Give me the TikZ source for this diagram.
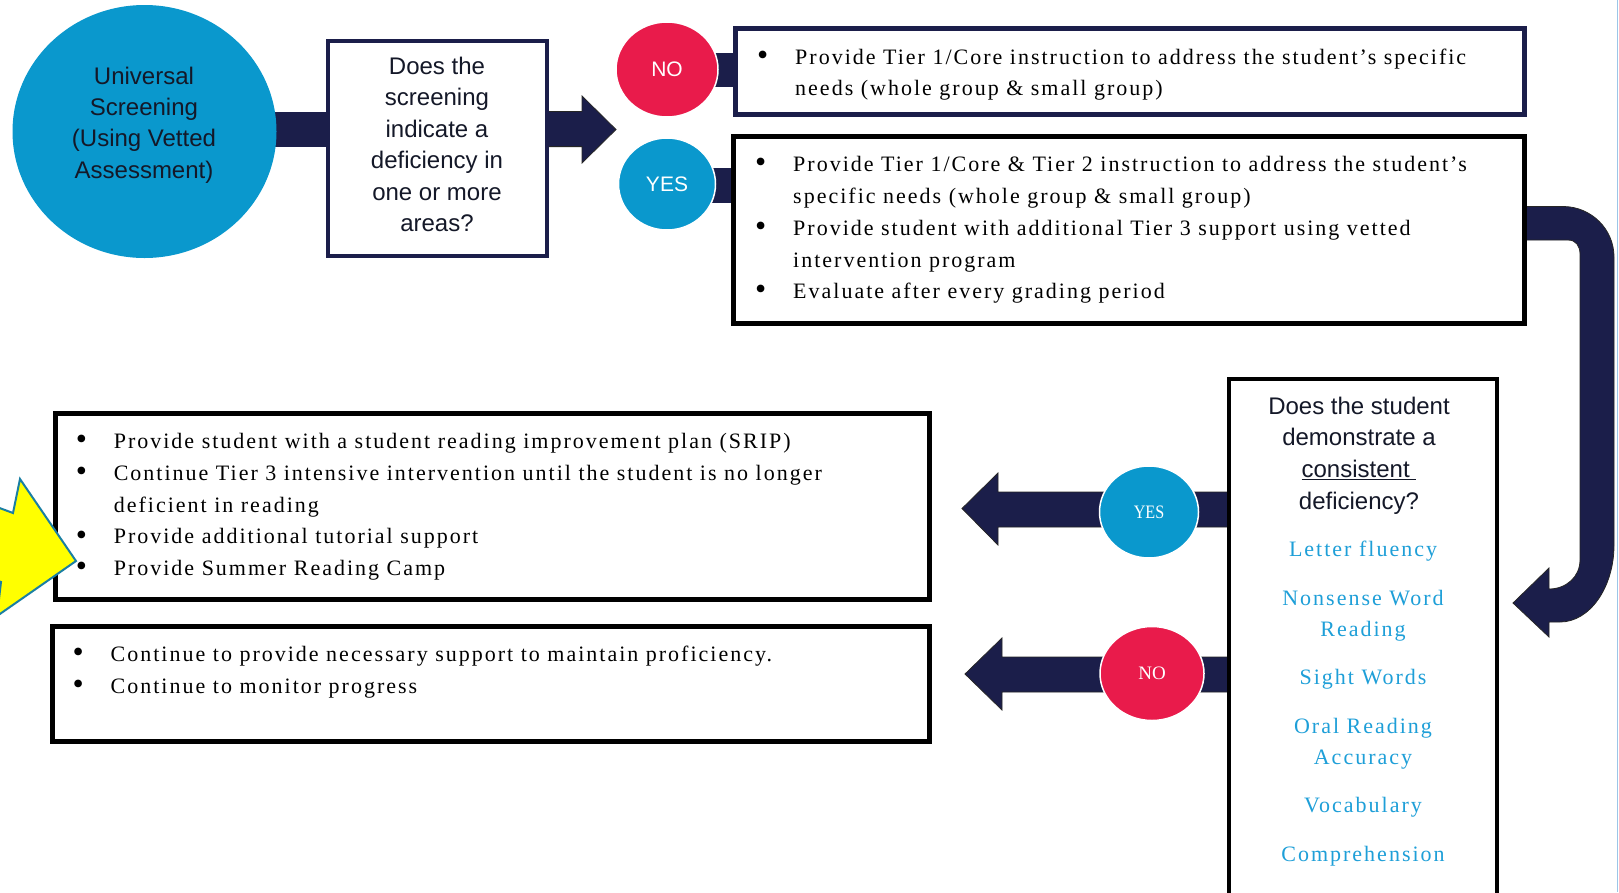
\documentclass[tikz,border=0pt]{standalone}
\usepackage{fontspec}
\setmainfont{Liberation Serif}
\newfontfamily\bodyfont{Liberation Serif}[LetterSpace=9.1]
\newfontfamily\arialfont{Liberation Sans}
\usetikzlibrary{shapes.geometric,calc}
\pgfdeclarelayer{bg}
\pgfsetlayers{bg,main}
\definecolor{navy}{HTML}{1B1E4A}
\definecolor{cblue}{HTML}{0A98CD}
\definecolor{cred}{HTML}{E91B4B}
\definecolor{lblue}{HTML}{1E9FD8}
\definecolor{darktext}{HTML}{141828}
\definecolor{yel}{HTML}{FFFF00}
\definecolor{tealb}{HTML}{1A7FA3}
\definecolor{edgeline}{HTML}{9CC6E8}
\newcommand\bulitem{\makebox[38pt][l]{\raisebox{-1.2pt}{\scalebox{1.45}{•}}}}
\newcommand\contind{\hspace*{38pt}}
\begin{document}
\begin{tikzpicture}[x=1pt,y=-1pt,
  sanstxt/.style={font=\arialfont\fontsize{24}{31.4}\selectfont, text=darktext, align=center, inner sep=0},
  bodytxt/.style={font=\bodyfont\fontsize{22}{31.75}\selectfont, inner sep=0, align=left, anchor=west},
  itemtxt/.style={font=\bodyfont\fontsize{22}{31}\selectfont, text=lblue, inner sep=0, anchor=base},
  bluecirc/.style={ellipse, fill=cblue, draw=white, line width=1.5, inner sep=0},
  redcirc/.style={ellipse, fill=cred, draw=white, line width=1.5, inner sep=0},
  circsans/.style={font=\arialfont\fontsize{21}{25}\selectfont, text=white},
  circserif/.style={font=\fontsize{19}{23}\selectfont, text=white},
  navybox/.style={rectangle, draw=navy, fill=white, inner sep=0},
  blackbox/.style={rectangle, draw=black, fill=white, inner sep=0},
  blockarrow/.style={fill=navy, draw=black!85, line width=0.8}
]
\useasboundingbox (0,0) rectangle (1619,892);
\clip (0,0) rectangle (1619,892);

% first row
\node[bluecirc, draw=none, minimum width=264, minimum height=253] (us) at (144.5,131.5) {};
\node[sanstxt] (ust) at (144,125) {Universal\\Screening\\(Using Vetted\\Assessment)};
\node[navybox, line width=4, minimum width=219, minimum height=215] (q1) at (437.5,148.5) {};
\node[sanstxt] (q1t) at (437,144.5) {Does the\\screening\\indicate a\\deficiency in\\one or more\\areas?};

\node[redcirc, minimum width=102, minimum height=95, circsans] (no1) at (667,69.5) {NO};
\node[bluecirc, minimum width=97, minimum height=92, circsans] (yes1) at (667,184) {YES};

\node[navybox, line width=5, minimum width=789, minimum height=86] (rno) at (1129.5,71) {};
\node[blackbox, line width=5, minimum width=791, minimum height=187] (ryes) at (1128.5,229.5) {};

\node[bodytxt] (tno) at (757,74.5) {\bulitem Provide Tier 1/Core instruction to address the student’s specific\\
\contind needs (whole group \& small group)};
\node[bodytxt] (tyes) at (755,230) {\bulitem Provide Tier 1/Core \& Tier 2 instruction to address the student’s\\
\contind specific needs (whole group \& small group)\\
\bulitem Provide student with additional Tier 3 support using vetted\\
\contind intervention program\\
\bulitem Evaluate after every grading period};

% right decision box
\node[blackbox, line width=4.5, minimum width=268, minimum height=530] (q2) at (1363,644) {};
\node[sanstxt, font=\arialfont\fontsize{24}{31.7}\selectfont] (q2t) at (1359,455.5) {Does the student\\demonstrate a\\\underline{consistent\ }\\deficiency?};
\node[itemtxt] (i1) at (1363,556) {Letter fluency};
\node[itemtxt] (i2) at (1363,605) {Nonsense Word};
\node[itemtxt] (i2b) at (1363,636) {Reading};
\node[itemtxt] (i3) at (1363,684) {Sight Words};
\node[itemtxt] (i4) at (1363,733) {Oral Reading};
\node[itemtxt] (i4b) at (1363,764) {Accuracy};
\node[itemtxt] (i5) at (1363,812) {Vocabulary};
\node[itemtxt] (i6) at (1363,861) {Comprehension};

\node[bluecirc, minimum width=99, minimum height=92, circserif] (y2) at (1149,512) {\scalebox{0.85}[1]{YES}};
\node[redcirc, minimum width=104, minimum height=94, circserif] (n2) at (1152,673.5) {NO};

% lower result boxes
\node[blackbox, line width=5, minimum width=874, minimum height=186] (r1) at (492,506) {};
\node[blackbox, line width=5, minimum width=877, minimum height=115] (r2) at (490.5,683.5) {};
\node[bodytxt] (tr1) at (75.6,506.9) {\bulitem Provide student with a student reading improvement plan (SRIP)\\
\bulitem Continue Tier 3 intensive intervention until the student is no longer\\
\contind deficient in reading\\
\bulitem Provide additional tutorial support\\
\bulitem Provide Summer Reading Camp};
\node[bodytxt] (tr2) at (72.5,672) {\bulitem Continue to provide necessary support to maintain proficiency.\\
\bulitem Continue to monitor progress};

% connectors (behind)
\begin{pgfonlayer}{bg}
\fill[white] (0,0) rectangle (1619,892);
\fill[navy] ($(us.east)+(-10,-20)$) rectangle ($(q1.west)+(7,-2)$);
\path[blockarrow] ($(q1.east)+(-6,-37)$) -- ++(39,0) -- ++(0,-15.5) -- ++(34,33.5) -- ++(-34,33.5) -- ++(0,-16.4) -- ++(-39,0) -- cycle;
\fill[navy] ($(no1.east)+(-10,-17)$) rectangle ($(rno.west)+(6,16)$);
\fill[navy] ($(yes1.east)+(-10,-16)$) rectangle ($(ryes.west)+(6,-26.5)$);
\path[blockarrow] ($(ryes.east)+(-6,-23)$) -- (1563,206.5) .. controls (1591,206.5) and (1614,229) .. (1614,257)
  -- (1614,545) .. controls (1614,587) and (1590,622) .. (1560,622) -- (1549,622) -- (1549,637) -- (1513,603)
  -- (1549,568) -- (1549,589) .. controls (1566,589) and (1580,577) .. (1580,560)
  -- (1580,254) .. controls (1580,246) and (1576,240) .. (1568,240) -- ($(ryes.east)+(-6,10.5)$) -- cycle;
\path[blockarrow] ($(y2.center)+(83,-20)$) -- ++(-234,0) -- ++(0,-19) -- ++(-36,35.5) -- ++(36,36.5) -- ++(0,-18) -- ++(234,0) -- cycle;
\path[blockarrow] ($(n2.center)+(80,-16.5)$) -- ++(-230,0) -- ++(0,-19) -- ++(-37,36) -- ++(37,36) -- ++(0,-18) -- ++(230,0) -- cycle;
\end{pgfonlayer}

% yellow pointer
\path[fill=yel, draw=tealb, line width=2, line join=miter] (-30,497) -- (13,513) -- (20,479) -- (76,561) -- (-3,616) -- (1,582) -- (-30,570) -- cycle;

% page edge
\draw[edgeline, line width=1.5] (1617.5,0) -- (1617.5,892);
\end{tikzpicture}
\end{document}
